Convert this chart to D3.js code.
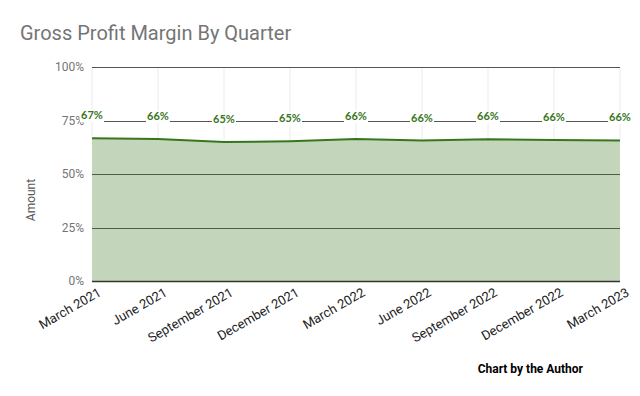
<html>
  <head>
    <script src="https://d3js.org/d3.v7.min.js"></script>
    <style>
      body { margin: 0; background: #fff; }
    </style>
  </head>
  <body>
    <div id="vis"></div>
  </body>
  <script>
    // quarters and gross margin (%)
    var quarters = ["March 2021", "June 2021", "September 2021", "December 2021", "March 2022",
                    "June 2022", "September 2022", "December 2022", "March 2023"]
    var margins = [66.7, 66.4, 64.9, 65.3, 66.3, 65.6, 66.2, 65.9, 65.7]
    var yTicks = [0, 25, 50, 75, 100]

    var W = 640, H = 396
    var margin = {top: 67, right: 20, bottom: 115, left: 92}
    var width = W - margin.left - margin.right
    var height = H - margin.top - margin.bottom

    var svg = d3.select("#vis")
      .append("svg")
      .attr("width", W)
      .attr("height", H)
      .style("font-family", "Roboto, sans-serif")

    // title
    svg.append("text")
      .attr("x", 20)
      .attr("y", 40)
      .attr("fill", "#757575")
      .style("font-size", "20px")
      .text("Gross Profit Margin By Quarter")

    var g = svg.append("g")
      .attr("transform", "translate(" + margin.left + "," + margin.top + ")")

    var x = d3.scalePoint().domain(quarters).range([0, width])
    var y = d3.scaleLinear().domain([0, 100]).range([height, 0])

    var data = quarters.map(function(q, i) { return {q: q, v: margins[i]} })

    // vertical faint grid (only visible above the area)
    g.selectAll(".vgrid")
      .data(data)
      .enter()
      .append("line")
      .attr("x1", function(d) { return x(d.q) })
      .attr("x2", function(d) { return x(d.q) })
      .attr("y1", y(100))
      .attr("y2", function(d) { return y(d.v) })
      .attr("stroke", "#ececec")
      .attr("stroke-width", 1)

    // horizontal grid
    g.selectAll(".hgrid")
      .data(yTicks)
      .enter()
      .append("line")
      .attr("x1", 0)
      .attr("x2", width)
      .attr("y1", function(d) { return Math.round(y(d)) + 0.5 })
      .attr("y2", function(d) { return Math.round(y(d)) + 0.5 })
      .attr("stroke", function(d) { return d == 0 ? "#333" : "#555" })
      .attr("stroke-width", function(d) { return d == 0 ? 1.5 : 1 })

    // y tick labels
    g.selectAll(".ylab")
      .data(yTicks)
      .enter()
      .append("text")
      .attr("x", -8)
      .attr("y", function(d) { return y(d) + 4 })
      .attr("text-anchor", "end")
      .attr("fill", "#757575")
      .style("font-size", "12px")
      .text(function(d) { return d + "%" })

    // area + line
    var area = d3.area()
      .x(function(d) { return x(d.q) })
      .y0(y(0))
      .y1(function(d) { return y(d.v) })
    var line = d3.line()
      .x(function(d) { return x(d.q) })
      .y(function(d) { return y(d.v) })

    g.append("path")
      .datum(data)
      .attr("d", area)
      .attr("fill", "#38761d")
      .attr("fill-opacity", 0.3)

    g.append("path")
      .datum(data)
      .attr("d", line)
      .attr("fill", "none")
      .attr("stroke", "#38761d")
      .attr("stroke-width", 2)

    // data labels with white background
    var labels = g.selectAll(".dlab")
      .data(data)
      .enter()
      .append("g")
      .attr("transform", function(d) { return "translate(" + x(d.q) + "," + (y(d.v) - 19) + ")" })
    labels.append("rect")
      .attr("x", -12)
      .attr("y", -9)
      .attr("width", 24)
      .attr("height", 12)
      .attr("fill", "#fff")
    labels.append("text")
      .attr("text-anchor", "middle")
      .attr("fill", "#38761d")
      .style("font-family", "Lato, sans-serif")
      .style("font-weight", "bold")
      .style("font-size", "11px")
      .text(function(d) { return Math.round(d.v) + "%" })

    // x labels
    g.selectAll(".xlab")
      .data(quarters)
      .enter()
      .append("text")
      .attr("transform", function(d) { return "translate(" + (x(d) + 10) + "," + (height + 14) + ") rotate(-30)" })
      .attr("text-anchor", "end")
      .attr("fill", "#222")
      .style("font-size", "13px")
      .text(function(d) { return d })

    // y axis title
    svg.append("text")
      .attr("transform", "translate(35,200) rotate(-90)")
      .attr("text-anchor", "middle")
      .attr("fill", "#555")
      .style("font-size", "12px")
      .text("Amount")

    // credit
    svg.append("text")
      .attr("x", 583)
      .attr("y", 373)
      .attr("text-anchor", "end")
      .attr("fill", "#000")
      .style("font-size", "12px")
      .style("font-weight", "bold")
      .text("Chart by the Author")
  </script>
</html>
